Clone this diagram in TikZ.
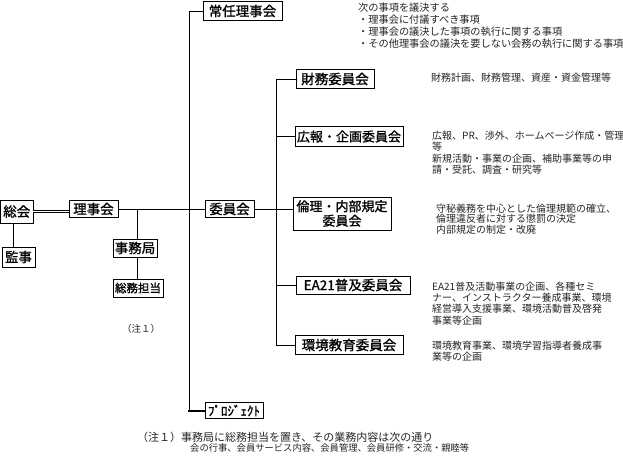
\documentclass[tikz,border=0pt]{standalone}
\usepackage{fontspec}
\newfontfamily\cjk{Noto Sans CJK JP}
\newfontfamily\cjkb[FakeBold=1.2]{Noto Sans CJK JP}
\begin{document}
\begin{tikzpicture}[x=1pt,y=-1pt,
  box/.style={draw, line width=0.9pt, inner sep=0pt, align=center,
    font=\cjkb\fontsize{13.5}{15.5}\selectfont},
  desc/.style={anchor=north west, inner sep=0pt, align=left, text=black!85,
    font=\cjk\fontsize{10}{11.6}\selectfont},
  note/.style={inner sep=0pt, text=black!85},
  link/.style={line width=0.9pt},
  thicklink/.style={line width=2pt},
  dbl/.style={double, double distance=1.3pt, line width=0.6pt}]
\useasboundingbox (0,0) rectangle (623,457);
\fill[white] (0,0) rectangle (623,457);

% left side
\node[box, minimum width=32.5pt, minimum height=23pt] (sokai) at (16.75,211.5) {総会};
\node[box, minimum width=33pt, minimum height=20pt] (kanji) at (18.5,257) {監事};
\node[box, minimum width=49pt, minimum height=17.5pt] (rijikai) at (93.5,209) {理事会};
\node[box, minimum width=44pt, minimum height=18pt] (jimu) at (135,248) {事務局};
\node[box, minimum width=50pt, minimum height=18pt, font=\cjkb\fontsize{11.5}{13}\selectfont] (somu) at (138,288) {総務担当};
\node[note, font=\cjk\fontsize{9.5}{11}\selectfont] (chu) at (141,329) {（注１）};

% main branch
\node[box, minimum width=79pt, minimum height=19pt] (jonin) at (242.5,11) {常任理事会};
\node[box, minimum width=49pt, minimum height=17pt] (iinkai) at (229.5,209) {委員会};
\node[box, minimum width=58pt, minimum height=16pt, font=\cjkb\fontsize{13}{15}\selectfont] (project) at (234,410.5) {ﾌﾟﾛｼﾞｪｸﾄ};

% committees
\node[box, minimum width=78pt, minimum height=19pt] (zaimu) at (335,79) {財務委員会};
\node[box, minimum width=108pt, minimum height=20pt, font=\cjkb\fontsize{13}{15}\selectfont] (koho) at (349,136.5) {広報・企画委員会};
\node[box, minimum width=98pt, minimum height=33pt, font=\cjkb\fontsize{13}{14.5}\selectfont] (rinri) at (342,213.5) {倫理・内部規定\\委員会};
\node[box, minimum width=114pt, minimum height=18pt] (ea) at (353,285) {EA21普及委員会};
\node[box, minimum width=108pt, minimum height=19pt] (kankyo) at (349,345) {環境教育委員会};

% bus coordinates
\coordinate (bus) at (189,0);
\coordinate (cbus) at (276,0);
\coordinate (jb) at (137,209);
\coordinate (kb) at (13,0);

% connectors
\draw[link] (kb |- sokai.south) -- (kb |- kanji.north);
\draw[dbl] (sokai.east) -- (sokai.east -| rijikai.west);
\draw[link] (rijikai.east) -- (iinkai.west);
\draw[link] (jb) -- (jb |- jimu.north);
\draw[link] (jb |- jimu.south) -- (jb |- somu.north);
\draw[link] (jonin.west) -- (bus |- jonin.west) -- (bus |- project.west);
\draw[thicklink] ([yshift=-1pt]bus |- project.west) -- (bus |- project.west) -- (project.west);
\draw[link] (iinkai.east) -- (iinkai.east -| rinri.west);
\draw[link] (cbus |- zaimu.west) -- (cbus |- kankyo.west);
\draw[link] (cbus |- zaimu.west) -- (zaimu.west);
\draw[link] (cbus |- koho.west) -- (koho.west);
\draw[link] (cbus |- ea.west) -- (ea.west);
\draw[link] (cbus |- kankyo.west) -- (kankyo.west);

% descriptions
\node[desc, font=\cjk\fontsize{10.2}{11.8}\selectfont] (djonin) at (358,3) {次の事項を議決する\\・理事会に付議すべき事項\\・理事会の議決した事項の執行に関する事項\\・その他理事会の議決を要しない会務の執行に関する事項};
\node[desc, anchor=west] (dzaimu) at (431,78) {財務計画、財務管理、資産・資金管理等};
\node[desc, font=\cjk\fontsize{10}{11.5}\selectfont] (dkoho) at (432,130.5) {広報、PR、渉外、ホームページ作成・管理\\等\\新規活動・事業の企画、補助事業等の申\\請・受託、調査・研究等};
\node[desc, font=\cjk\fontsize{10}{10.8}\selectfont] (drinri) at (436,203.5) {守秘義務を中心とした倫理規範の確立、\\倫理違反者に対する懲罰の決定\\内部規定の制定・改廃};
\node[desc, font=\cjk\fontsize{10}{11.3}\selectfont] (dea) at (432,281.5) {EA21普及活動事業の企画、各種セミ\\ナー、インストラクター養成事業、環境\\経営導入支援事業、環境活動普及啓発\\事業等企画};
\node[desc, font=\cjk\fontsize{10}{11}\selectfont] (dkankyo) at (432,340.5) {環境教育事業、環境学習指導者養成事\\業等の企画};

% footnote
\node[note, anchor=west, font=\cjk\fontsize{11}{12}\selectfont] (fn1) at (137,437) {（注１）事務局に総務担当を置き、その業務内容は次の通り};
\node[note, anchor=west, font=\cjk\fontsize{9.3}{11}\selectfont] (fn2) at (190,448) {会の行事、会員サービス内容、会員管理、会員研修・交流・親睦等};
\end{tikzpicture}
\end{document}
